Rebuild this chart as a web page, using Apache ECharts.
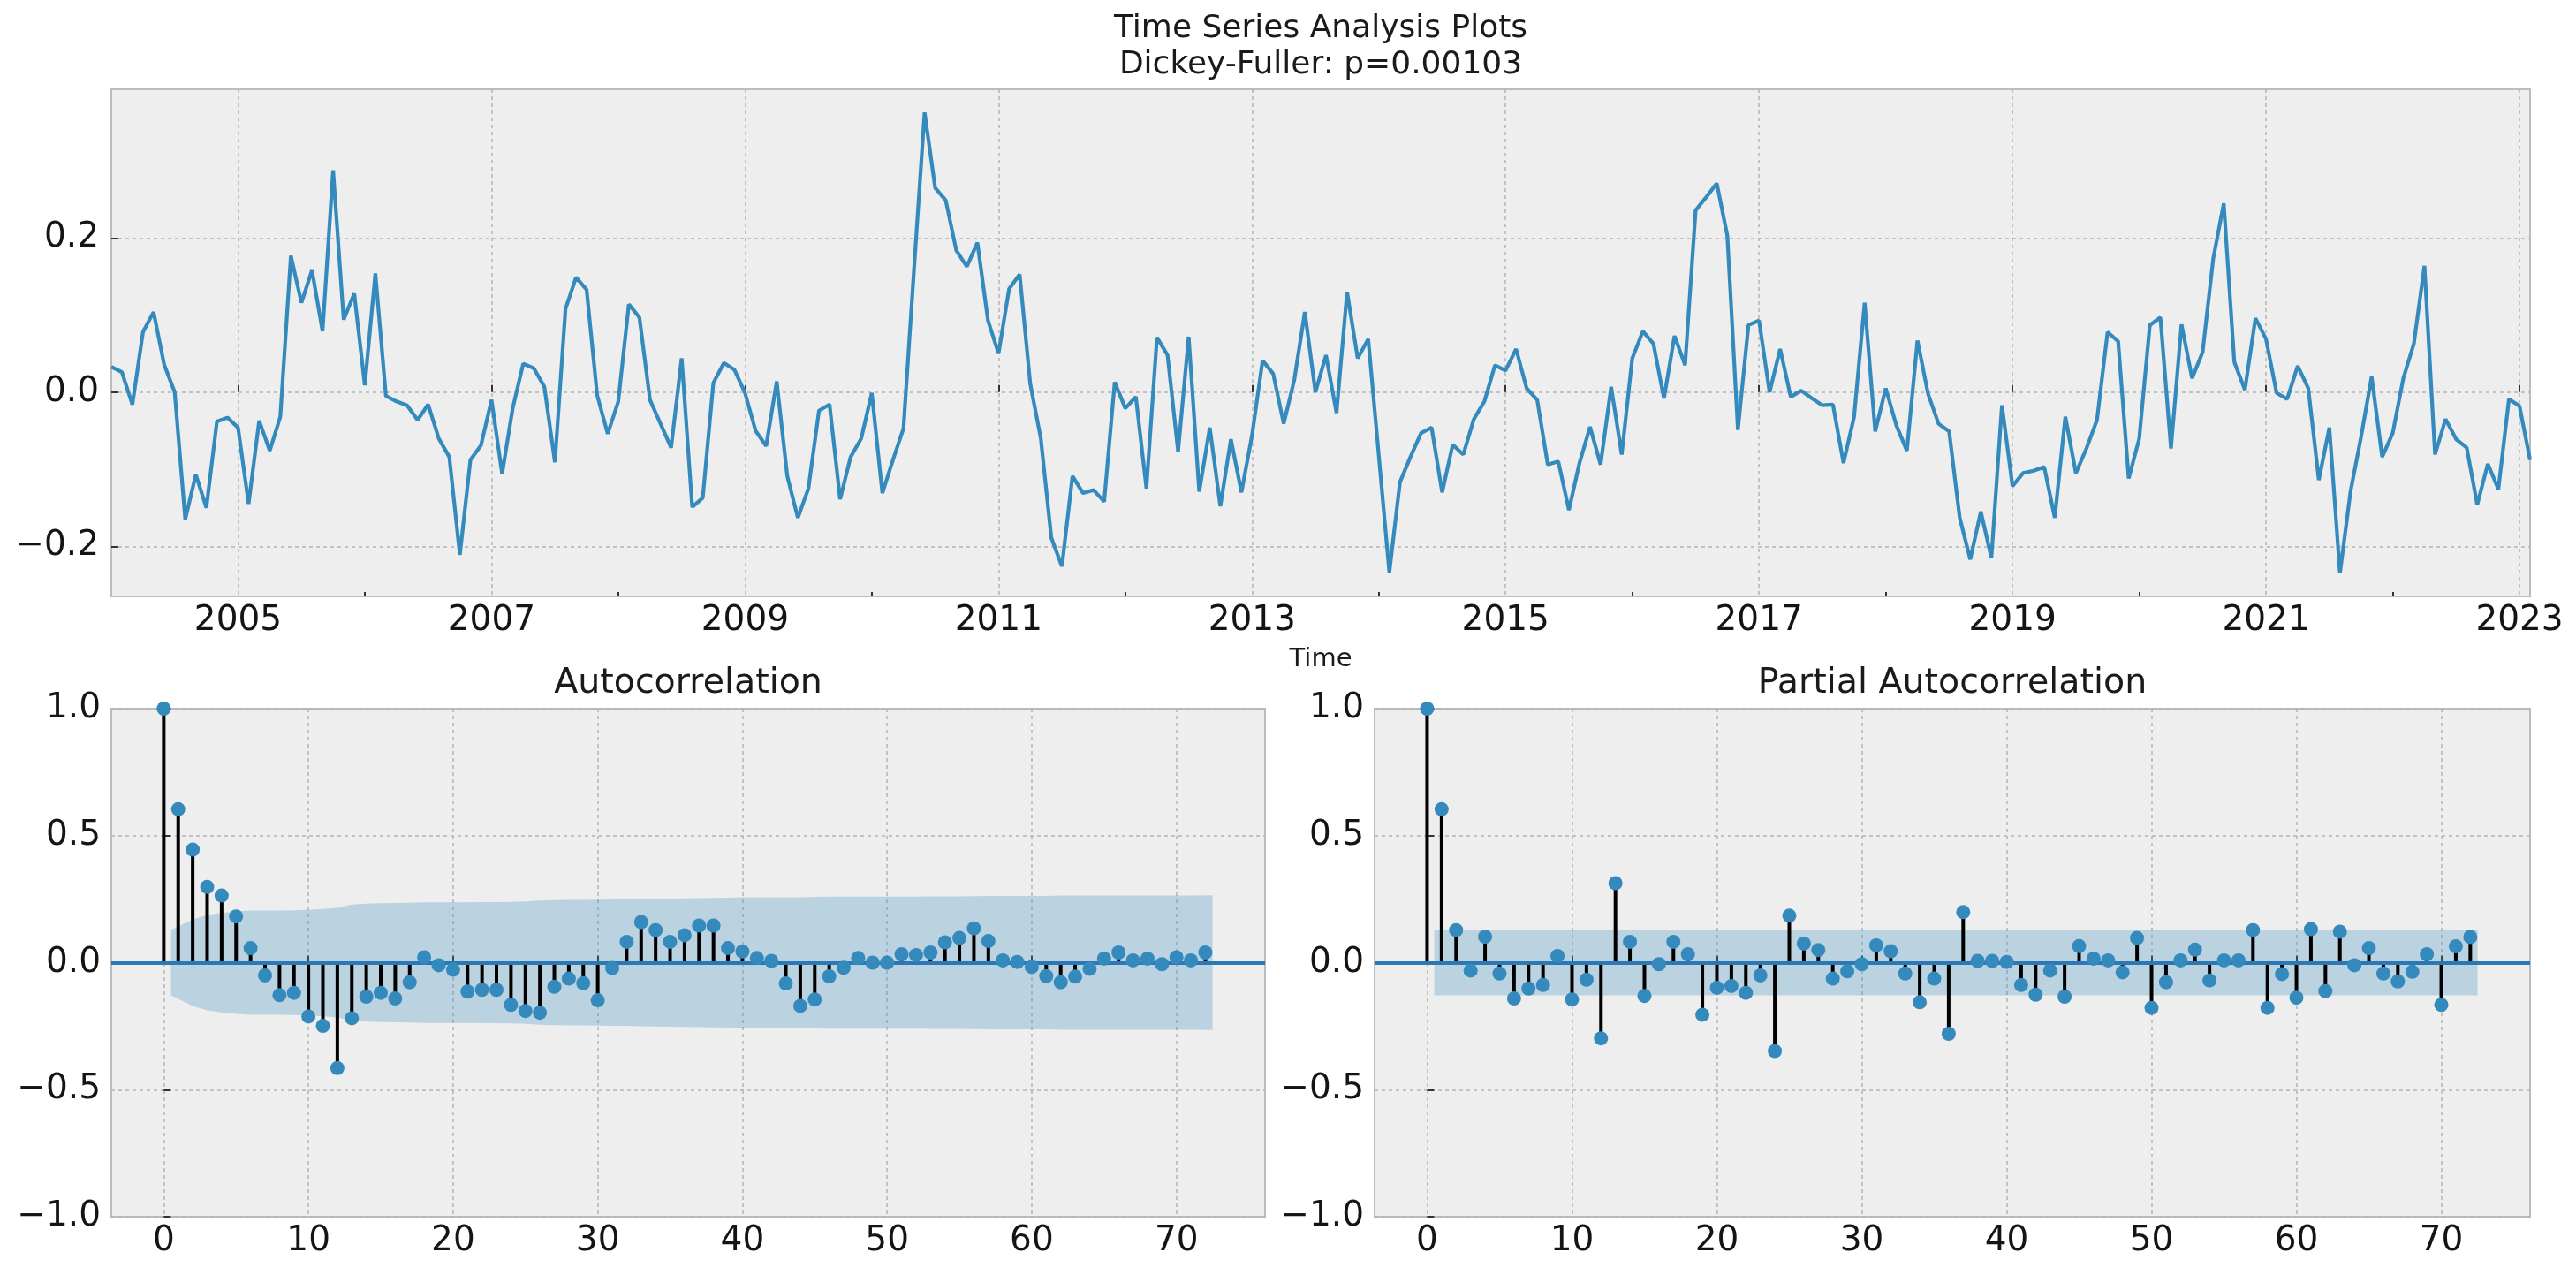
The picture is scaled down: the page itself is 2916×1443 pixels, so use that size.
<!DOCTYPE html>
<html>
<head>
<meta charset="utf-8">
<script src="https://cdn.jsdelivr.net/npm/echarts@6/dist/echarts.min.js"></script>
<style>
html,body{margin:0;padding:0;background:#ffffff;}
#chart{width:2916px;height:1443px;}
</style>
</head>
<body>
<div id="chart"></div>
<script>
// ---------------- DATA ----------------
const startYear = 2004; // first monthly observation: Jan 2004
const tsValues = [
  0.033, 0.026, -0.016, 0.078, 0.104, 0.036, 0.000, -0.165, -0.107, -0.150, -0.038, -0.033,
  -0.046, -0.145, -0.037, -0.076, -0.032, 0.177, 0.116, 0.158, 0.079, 0.288, 0.094, 0.128,
  0.009, 0.154, -0.005, -0.012, -0.017, -0.036, -0.016, -0.060, -0.084, -0.211, -0.088, -0.069,
  -0.010, -0.106, -0.021, 0.037, 0.031, 0.007, -0.091, 0.108, 0.149, 0.133, -0.004, -0.054,
  -0.012, 0.114, 0.097, -0.010, -0.041, -0.072, 0.044, -0.149, -0.137, 0.012, 0.038, 0.029,
  -0.001, -0.050, -0.070, 0.014, -0.109, -0.163, -0.125, -0.024, -0.016, -0.139, -0.084, -0.060,
  -0.001, -0.131, -0.088, -0.047, 0.160, 0.363, 0.265, 0.249, 0.184, 0.163, 0.194, 0.093,
  0.050, 0.134, 0.153, 0.011, -0.060, -0.189, -0.226, -0.109, -0.131, -0.127, -0.142, 0.013,
  -0.021, -0.006, -0.125, 0.071, 0.048, -0.077, 0.072, -0.129, -0.046, -0.148, -0.061, -0.130,
  -0.056, 0.041, 0.024, -0.041, 0.016, 0.104, 0.000, 0.048, -0.027, 0.130, 0.044, 0.069,
  -0.082, -0.234, -0.117, -0.084, -0.053, -0.046, -0.130, -0.068, -0.081, -0.035, -0.012, 0.035,
  0.028, 0.056, 0.005, -0.010, -0.094, -0.090, -0.153, -0.092, -0.045, -0.094, 0.007, -0.081,
  0.044, 0.079, 0.063, -0.008, 0.073, 0.035, 0.236, 0.253, 0.271, 0.203, -0.049, 0.087,
  0.093, 0.000, 0.056, -0.006, 0.002, -0.008, -0.017, -0.016, -0.092, -0.032, 0.116, -0.051,
  0.005, -0.043, -0.076, 0.067, -0.002, -0.041, -0.051, -0.163, -0.217, -0.155, -0.215, -0.017,
  -0.122, -0.105, -0.102, -0.097, -0.163, -0.032, -0.105, -0.073, -0.036, 0.078, 0.066, -0.112,
  -0.060, 0.087, 0.097, -0.073, 0.088, 0.018, 0.052, 0.173, 0.245, 0.039, 0.003, 0.096,
  0.069, -0.001, -0.009, 0.034, 0.005, -0.114, -0.046, -0.235, -0.129, -0.058, 0.020, -0.084,
  -0.053, 0.018, 0.063, 0.164, -0.081, -0.035, -0.061, -0.072, -0.146, -0.093, -0.126, -0.009,
  -0.018, -0.088
];
const yearLabelTicks = [2005, 2007, 2009, 2011, 2013, 2015, 2017, 2019, 2021, 2023];
const yearMinorTicks = [2006, 2008, 2010, 2012, 2014, 2016, 2018, 2020, 2022];
const tsYTicks = [-0.2, 0.0, 0.2];
const lagTicks = [0, 10, 20, 30, 40, 50, 60, 70];

const acfValues = [
  1.0, 0.604, 0.445, 0.298, 0.264, 0.182, 0.057, -0.050, -0.128, -0.119,
  -0.212, -0.249, -0.415, -0.219, -0.134, -0.119, -0.141, -0.077, 0.021, -0.010,
  -0.028, -0.114, -0.107, -0.107, -0.166, -0.190, -0.197, -0.095, -0.063, -0.081,
  -0.148, -0.021, 0.082, 0.160, 0.128, 0.082, 0.108, 0.146, 0.146, 0.057,
  0.044, 0.018, 0.007, -0.082, -0.170, -0.145, -0.054, -0.020, 0.018, 0.000,
  0.000, 0.033, 0.030, 0.040, 0.080, 0.097, 0.135, 0.085, 0.009, 0.003,
  -0.017, -0.053, -0.077, -0.055, -0.024, 0.016, 0.040, 0.009, 0.016, -0.006,
  0.021, 0.009, 0.040
];
// half-width of the ACF confidence band for lags 1..72
const acfBand = [
  0.129, 0.170, 0.188, 0.196, 0.202, 0.205, 0.205, 0.205, 0.206, 0.208,
  0.211, 0.216, 0.229, 0.232, 0.234, 0.235, 0.236, 0.237, 0.237, 0.237,
  0.237, 0.238, 0.238, 0.239, 0.241, 0.244, 0.246, 0.247, 0.247, 0.248,
  0.249, 0.249, 0.250, 0.251, 0.252, 0.253, 0.254, 0.255, 0.256, 0.257,
  0.257, 0.257, 0.257, 0.257, 0.259, 0.260, 0.260, 0.260, 0.260, 0.260,
  0.260, 0.260, 0.261, 0.261, 0.261, 0.262, 0.263, 0.263, 0.263, 0.263,
  0.263, 0.264, 0.264, 0.264, 0.264, 0.264, 0.264, 0.264, 0.264, 0.264,
  0.264, 0.265
];
const pacfValues = [
  1.0, 0.604, 0.128, -0.031, 0.102, -0.043, -0.141, -0.102, -0.088, 0.026,
  -0.145, -0.067, -0.298, 0.313, 0.082, -0.131, -0.006, 0.082, 0.033, -0.205,
  -0.099, -0.092, -0.119, -0.050, -0.348, 0.185, 0.075, 0.050, -0.063, -0.034,
  -0.006, 0.068, 0.045, -0.043, -0.156, -0.063, -0.280, 0.199, 0.007, 0.007,
  0.003, -0.088, -0.126, -0.031, -0.134, 0.065, 0.016, 0.009, -0.038, 0.097,
  -0.178, -0.077, 0.009, 0.051, -0.070, 0.009, 0.009, 0.128, -0.178, -0.045,
  -0.138, 0.132, -0.112, 0.122, -0.010, 0.057, -0.043, -0.074, -0.036, 0.033,
  -0.166, 0.064, 0.101
];
// half-width of the PACF confidence band for lags 1..72
const pacfBand = [
  0.129, 0.129, 0.129, 0.129, 0.129, 0.129, 0.129, 0.129, 0.129, 0.129,
  0.129, 0.129, 0.129, 0.129, 0.129, 0.129, 0.129, 0.129, 0.129, 0.129,
  0.129, 0.129, 0.129, 0.129, 0.129, 0.129, 0.129, 0.129, 0.129, 0.129,
  0.129, 0.129, 0.129, 0.129, 0.129, 0.129, 0.129, 0.129, 0.129, 0.129,
  0.129, 0.129, 0.129, 0.129, 0.129, 0.129, 0.129, 0.129, 0.129, 0.129,
  0.129, 0.129, 0.129, 0.129, 0.129, 0.129, 0.129, 0.129, 0.129, 0.129,
  0.129, 0.129, 0.129, 0.129, 0.129, 0.129, 0.129, 0.129, 0.129, 0.129,
  0.129, 0.129
];

// ---------------- BUILD ----------------
const FONT = 'DejaVu Sans';
const LINE_BLUE = '#348ABD';
const ZERO_BLUE = '#2a78b6';
const GRID_LINE = {show: true, lineStyle: {color: '#b4b4b4', width: 1.5, type: [4, 4]}};
const fmtMinus = (s) => s.replace('-', '\u2212');

const tsData = tsValues.map((v, i) => [startYear + i / 12, v]);
const tsMax = startYear + (tsValues.length - 1) / 12;

function stemData(vals) { return vals.map((v, k) => [k, v]); }
function bandX(n) {
  // lags 1..n, first and last shifted by half a lag (statsmodels style)
  const xs = [];
  for (let k = 1; k <= n; k++) xs.push(k);
  xs[0] -= 0.5; xs[xs.length - 1] += 0.5;
  return xs;
}
function bandSeries(band, xi, yi) {
  const xs = bandX(band.length);
  const pts = xs.map((x, i) => [x, band[i]]);
  return {
    type: 'custom', xAxisIndex: xi, yAxisIndex: yi, silent: true, z: 1,
    data: pts, encode: {x: 0, y: 1},
    renderItem: function (params, api) {
      if (params.dataIndex !== 0) return null;
      const upper = pts.map((p) => api.coord([p[0], p[1]]));
      const lower = pts.slice().reverse().map((p) => api.coord([p[0], -p[1]]));
      return {type: 'polygon', shape: {points: upper.concat(lower)},
              style: {fill: 'rgba(52,138,189,0.27)'}};
    }
  };
}
function stemSeries(vals, xi, yi) {
  return {
    type: 'custom', xAxisIndex: xi, yAxisIndex: yi, silent: true, z: 3,
    data: stemData(vals),
    encode: {x: 0, y: 1},
    renderItem: function (params, api) {
      const x = api.value(0), y = api.value(1);
      const p0 = api.coord([x, 0]);
      const p1 = api.coord([x, y]);
      return {type: 'line', shape: {x1: p0[0], y1: p0[1], x2: p1[0], y2: p1[1]},
              style: {stroke: '#000000', lineWidth: 4}};
    }
  };
}
function markerSeries(vals, xi, yi) {
  return {
    type: 'scatter', xAxisIndex: xi, yAxisIndex: yi, silent: true, z: 5,
    data: stemData(vals), symbolSize: 16,
    itemStyle: {color: LINE_BLUE, opacity: 1},
    markLine: {
      silent: true, symbol: 'none', label: {show: false}, animation: false,
      lineStyle: {color: ZERO_BLUE, width: 4, type: 'solid'},
      data: [{yAxis: 0}]
    }
  };
}

const tickStyle = {color: '#333333', width: 2};
const labelBase = {color: '#141414', fontSize: 39, fontFamily: FONT};

function lagXAxis(gi) {
  return {
    type: 'value', gridIndex: gi, min: -3.625, max: 76.125,
    axisLine: {show: false},
    axisTick: {show: true, inside: true, length: 8, lineStyle: tickStyle, customValues: lagTicks},
    axisLabel: Object.assign({}, labelBase, {margin: 8, customValues: lagTicks,
      formatter: (v) => String(Math.round(v))}),
    splitLine: GRID_LINE
  };
}
function corrYAxis(gi) {
  return {
    type: 'value', gridIndex: gi, min: -1, max: 1, interval: 0.5,
    axisLine: {show: false},
    axisTick: {show: true, inside: true, length: 8, lineStyle: tickStyle},
    axisLabel: Object.assign({}, labelBase, {margin: 12,
      formatter: (v) => fmtMinus(v.toFixed(1))}),
    splitLine: GRID_LINE
  };
}

const gridBase = {show: true, backgroundColor: '#eeeeee', borderColor: '#bcbcbc', borderWidth: 2};
const titleStyle = (text, size) => ({text: text, fill: '#1a1a1a', fontSize: size, fontFamily: FONT,
                                     textAlign: 'center', textVerticalAlign: 'middle'});

const option = {
  animation: false,
  backgroundColor: '#ffffff',
  textStyle: {fontFamily: FONT},
  grid: [
    Object.assign({left: 126, top: 101, width: 2738, height: 574}, gridBase),
    Object.assign({left: 126, top: 802, width: 1306, height: 575}, gridBase),
    Object.assign({left: 1556, top: 802, width: 1308, height: 575}, gridBase)
  ],
  xAxis: [
    {
      type: 'value', gridIndex: 0, min: startYear, max: tsMax,
      axisLine: {show: false},
      axisTick: {show: true, inside: true, length: 8, lineStyle: tickStyle, customValues: yearLabelTicks},
      axisLabel: Object.assign({}, labelBase, {margin: 8, customValues: yearLabelTicks,
        formatter: (v) => String(Math.round(v))}),
      splitLine: GRID_LINE
    },
    {
      type: 'value', gridIndex: 0, min: startYear, max: tsMax, position: 'bottom',
      axisLine: {show: false},
      axisTick: {show: true, inside: true, length: 5, lineStyle: tickStyle, customValues: yearMinorTicks},
      axisLabel: {show: false, customValues: yearMinorTicks},
      splitLine: {show: false}
    },
    lagXAxis(1),
    lagXAxis(2)
  ],
  yAxis: [
    {
      type: 'value', gridIndex: 0, min: -0.265, max: 0.393,
      axisLine: {show: false},
      axisTick: {show: true, inside: true, length: 8, lineStyle: tickStyle, customValues: tsYTicks},
      axisLabel: Object.assign({}, labelBase, {margin: 14, customValues: tsYTicks,
        formatter: (v) => fmtMinus(v.toFixed(1))}),
      splitLine: GRID_LINE
    },
    corrYAxis(1),
    corrYAxis(2)
  ],
  graphic: [
    {type: 'text', x: 1495, y: 33, silent: true, style: titleStyle('Time Series Analysis Plots', 36)},
    {type: 'text', x: 1495, y: 74, silent: true, style: titleStyle('Dickey-Fuller: p=0.00103', 36)},
    {type: 'text', x: 1495, y: 746, silent: true, style: titleStyle('Time', 29)},
    {type: 'text', x: 779, y: 774, silent: true, style: titleStyle('Autocorrelation', 39.5)},
    {type: 'text', x: 2210, y: 774, silent: true, style: titleStyle('Partial Autocorrelation', 39.5)}
  ],
  series: [
    {
      type: 'line', xAxisIndex: 0, yAxisIndex: 0, data: tsData, symbol: 'none',
      lineStyle: {color: LINE_BLUE, width: 4.2}, clip: true, silent: true, z: 3
    },
    bandSeries(acfBand, 2, 1),
    stemSeries(acfValues, 2, 1),
    markerSeries(acfValues, 2, 1),
    bandSeries(pacfBand, 3, 2),
    stemSeries(pacfValues, 3, 2),
    markerSeries(pacfValues, 3, 2)
  ]
};

const chart = echarts.init(document.getElementById('chart'), null, {renderer: 'canvas'});
chart.setOption(option);
</script>
</body>
</html>
